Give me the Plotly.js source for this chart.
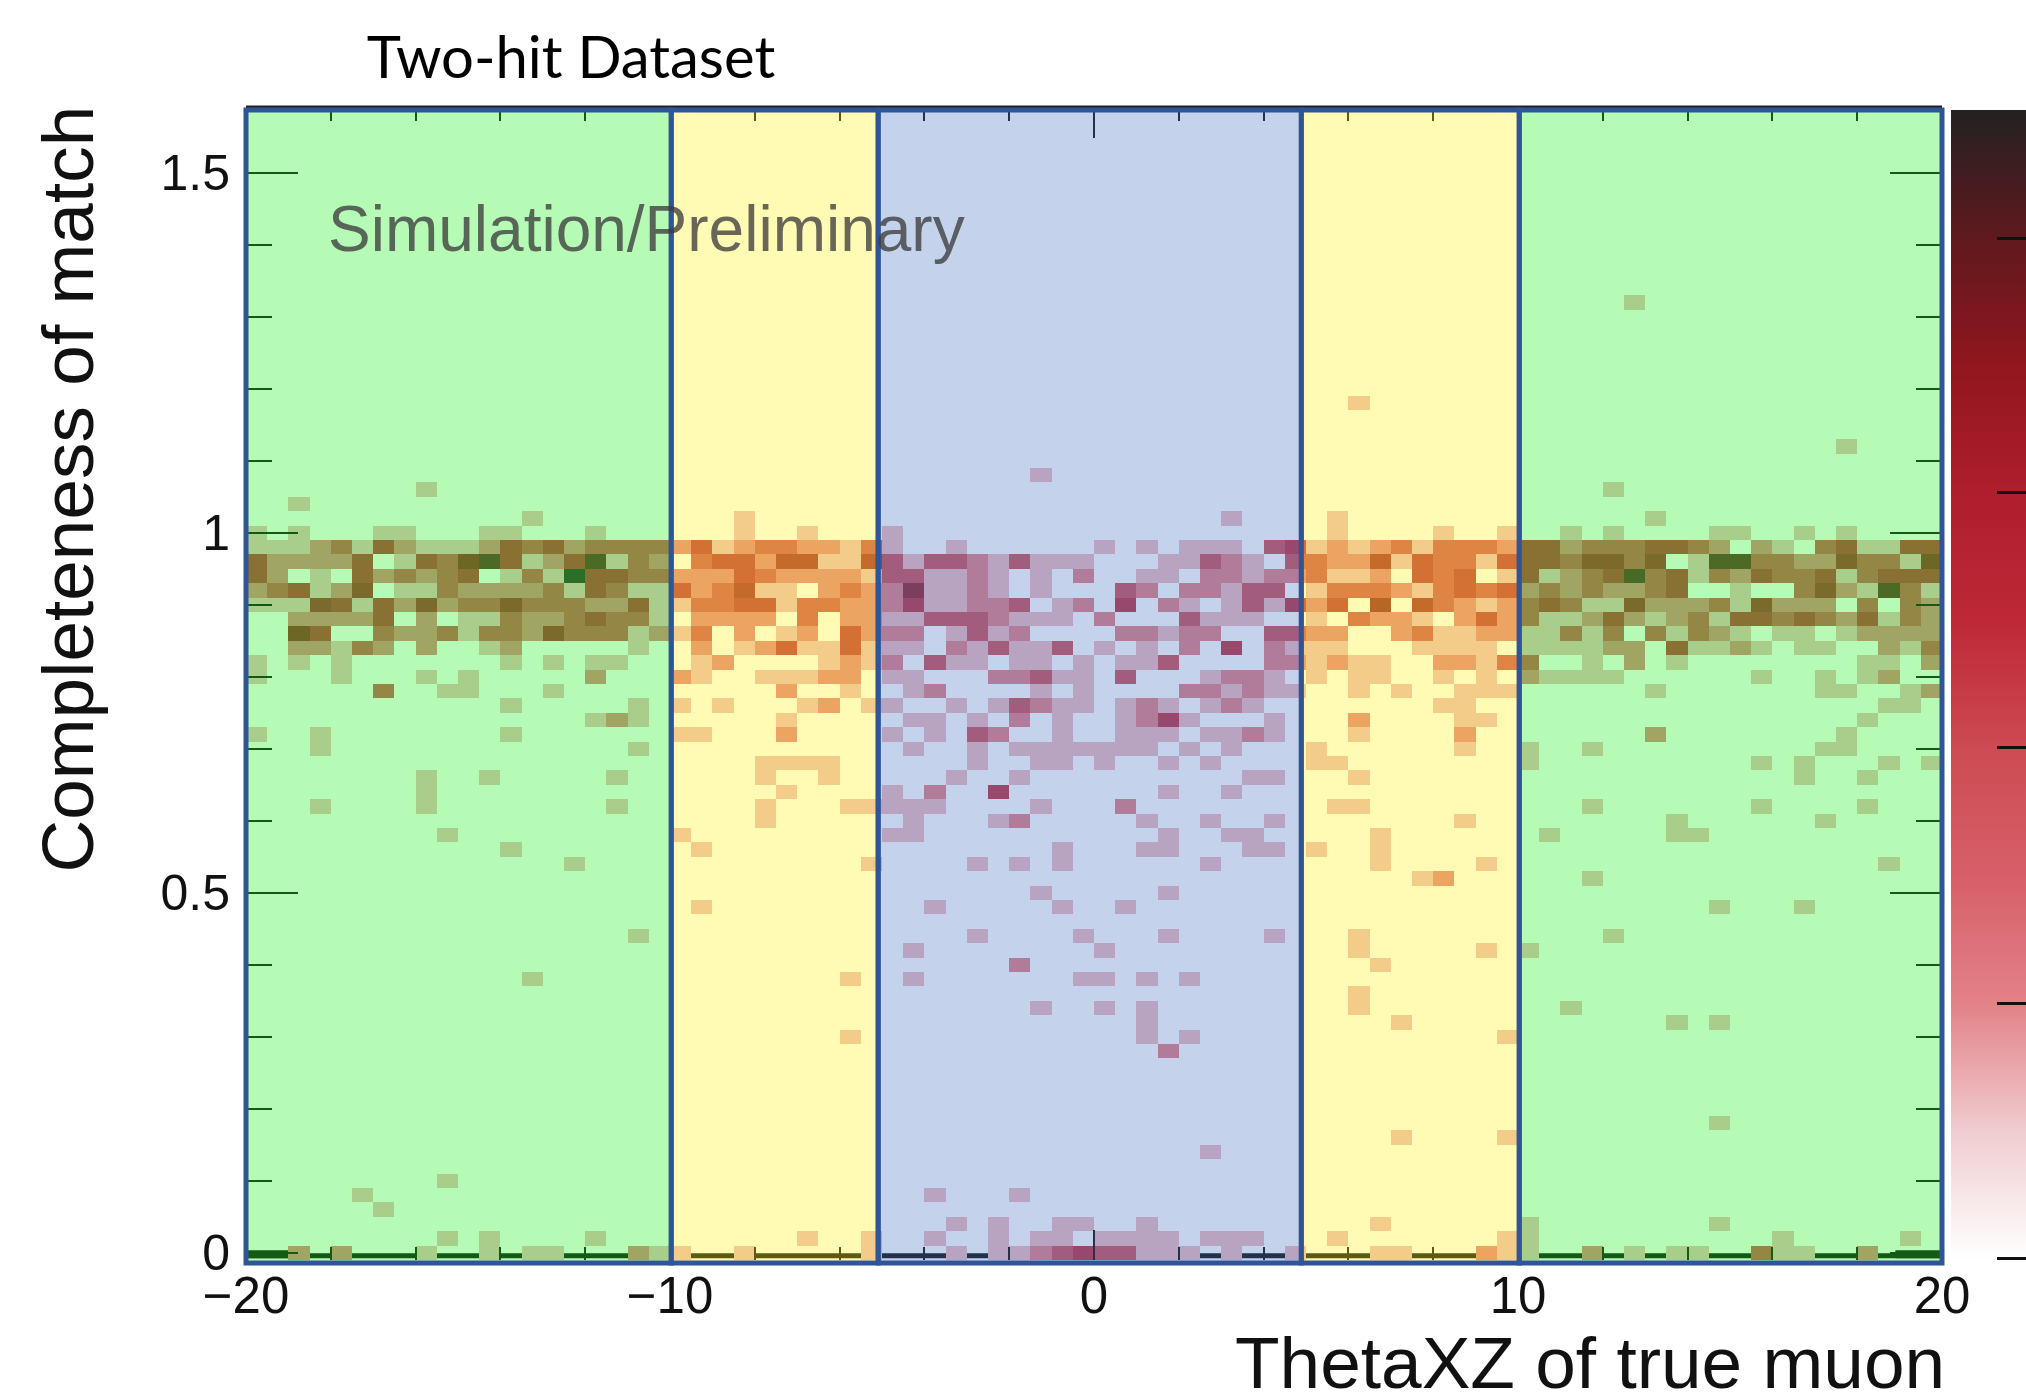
<!DOCTYPE html>
<html>
<head>
<meta charset="utf-8">
<script src="https://cdn.plot.ly/plotly-3.0.1.min.js"></script>
<style>html,body{margin:0;padding:0;background:#fff;overflow:hidden}#chart{width:2026px;height:1398px}</style>
</head>
<body>
<div id="chart"></div>
<script>
// Histogram binning
const nCols = 80, nRows = 80;
const xStart = -20, xStep = 0.5, yStart = 0, yStep = 0.02;

// Shade levels read from each cell, and their position on the colour bar
const levelValues = [0, 1, 1.8, 3.2, 4.1, 5, 5.5, 6.3, 6.4, 7];

// Dense band near completeness 1: row index, then levels per column
// (groups: -20..-10, -10..-5, -5..5, 5..10, 10..20)
const bandRowIndex = [49, 48, 47, 46, 45, 44, 43];
const bandLevels = [
  "11123142111243423333 2412332213 10010000001010111034 1212313332 44233344320210341144",
  "42222401436741247132 0344255115 31332131110001132103 3225143314 44355350177332253316",
  "42010423234013194433 2224322221 33112101020011022122 3112043401 41234834132433413444",
  "23412501132222314311 4235110232 26112101000320221330 1333213434 23232234001003521731",
  "11154142523353332241 1334413322 24112230120402101314 2406053212 34311522231522203032",
  "00222240201132234331 0222203022 11333211102000311100 1032210242 31124212314434324132",
  "00640032231332533312 1302012042 22013120000221220033 2200231122 11313031321011012222"
];

// Scattered cells: row index, then "column" (level 1) or "column:level"
const scatterRowIndex = [0,1,2,3,4,5,7,8,9,14,15,16,17,18,19,20,21,22,24,25,26,27,28,29,30,31,32,33,34,35,36,37,38,39,40,41,42,50,51,52,53,54,56,59,66];
const scatterCells = [
  "2:2 4:2 8 11 13 14 18:2 19 20 23 29 33 35 36 37:2 38:3 39:4 40:3 41:3 42 43 44 46 49 53 54 58:2 59 60 63:2 65 67 68 71:3 72 73 76:2",
  "9 11 16 26 29 32 35 37 38 40 41 42 43 45 46 47 51 59 60 72 78",
  "33 35 38 39 42 53 60 69",
  "6",
  "5 32 36",
  "9",
  "45",
  "54 59",
  "69",
  "43:2",
  "28 42 44 59",
  "42 54 67 69",
  "37 40 42 52 62",
  "52",
  "13 28 31 39 40 42 44",
  "36:2 53",
  "31 40 52 58 60",
  "18 34 39 43 48 52 64",
  "21 32 38 41 69 73",
  "37 43",
  "55 56:2 63",
  "15 29 34 36 38 45 53 58 77",
  "12 21 38 42 43 47 48 50 53",
  "9 20 30 31 43 46 47 53 61 67 68",
  "24 31 35 36:2 42 45 48 57 67 74",
  "3 8 17 24 28 29 30 31 32 37 41:2 51 52 63 71 76",
  "8 25 30 32:2 35:4 43 46",
  "8 11 17 24 27 33 36 47 48 52 73 76",
  "24 25 26 27 34 37 38 40 43 45 50 51 60 71 73 77 79",
  "3 18 31 34 36 37 38 39 40 41 42 44 46 50 57 60 63 74 75",
  "0 3 12 20 21 25:2 30 32 34:3 35:2 38 41 42 43 45 46 47:2 48 52 57:2 66:2 75",
  "16 17:2 18 25 31 32 34 36:2 38 41 42:2 43:4 44 48 52:2 57 58 76",
  "12 18 20 22 26 27:2 29 30 33 35 36:3 37:2 38 39 41 42:2 43 45 46:2 47 56 57 77 78",
  "6:3 9 10 14 25:2 28 31 32:2 37 39 44:2 45:2 46 47:2 48 49 52 54 57 58 59 66 74 75 78 79:2",
  "0 4 8 10 16:2 20:2 21 24 25 26 27:2 28:2 30 31 35:2 36:2 37:3 38 39 41:3 45 46:2 47:2 48 50 52 53 56 58 60:2 61 62 63 64 71 74 76 77:2",
  "0 2 4 12 14 16 17 21 22:2 27 28:2 29 30:2 32:3 33 34 36 37 39 41 42 43:3 48:2 49:2 50 51:2 52 53 56:2 57:2 58 59:3 60:3 63 65:2 67 76 77 79:2",
  "2:2 3:2 4 5:3 6:2 8:2 11 12:2 18 21:2 23 24:2 25:4 26 27 28:4 29 30 31 33:2 34 35:3 36 37 38:3 40 42 44:2 46:4 48:2 49 50 51 55 56 57 58 60 61 62 63 64:2 65:2 67:4 68 69 70:2 71 73 74 77:2 78 79:3",
  "0 2 6 7 11 12 16 23 26 30 51 56 59 62 64 69 70 73 75",
  "13 23 46 51 66",
  "2",
  "8 64",
  "37",
  "75",
  "52",
  "65"
];

// Axis ticks and labels
const xTickVals = [-20, -10, 0, 10, 20];
const xTickText = ["\u221220", "\u221210", "0", "10", "20"];
const yTickVals = [0, 0.5, 1, 1.5];
const yTickText = ["0", "0.5", "1", "1.5"];
const barTickVals = [0.012, 1.564, 3.117, 4.67, 6.22];

// Colour bar samples (position, colour)
const barStops = [
  [0, "rgb(255,255,255)"], [0.111, "rgb(240,205,208)"], [0.222, "rgb(226,130,135)"],
  [0.333, "rgb(215,95,105)"], [0.444, "rgb(205,75,82)"], [0.556, "rgb(190,40,55)"],
  [0.667, "rgb(175,30,45)"], [0.778, "rgb(145,22,30)"], [0.889, "rgb(95,25,30)"],
  [1, "rgb(35,33,33)"]
];

// Overlay bands: edges along the x axis and their tints
const bandEdges = [-20, -9.97, -5.09, 4.89, 10.03, 20];
const bandTints = ["rgba(54,243,54,0.37)", "rgba(255,241,52,0.37)", "rgba(96,133,204,0.37)", "rgba(255,241,52,0.37)", "rgba(54,243,54,0.37)"];
const bandLine = "#2F5597";

const z = [];
for (let r = 0; r < nRows; r++) z.push(new Array(nCols).fill(null));
bandRowIndex.forEach((k, i) => {
  const digits = bandLevels[i].replace(/ /g, "");
  for (let c = 0; c < nCols; c++) {
    const lv = +digits[c];
    if (lv > 0) z[k][c] = levelValues[lv];
  }
});
scatterRowIndex.forEach((k, i) => {
  scatterCells[i].split(" ").forEach(tok => {
    const p = tok.split(":");
    z[k][+p[0]] = levelValues[p.length > 1 ? +p[1] : 1];
  });
});

const frac = v => (v - xStart) / 40;
const shapes = [
  {type:"line", layer:"below", xref:"x", yref:"y", x0:-20, x1:20, y0:-0.004, y1:-0.004, line:{color:"#000", width:5}},
  {type:"line", layer:"below", xref:"x", yref:"y", x0:-20, x1:-18.9, y0:-0.002, y1:-0.002, line:{color:"#000", width:8}},
  {type:"line", layer:"below", xref:"x", yref:"y", x0:18.9, x1:20, y0:-0.002, y1:-0.002, line:{color:"#000", width:8}},
  {type:"line", layer:"above", xref:"paper", yref:"paper", x0:0, x1:1, y0:1.0005, y1:1.0005, line:{color:"#222", width:4}}
];
bandTints.forEach((tint, i) => {
  shapes.push({type:"rect", layer:"above", xref:"paper", yref:"paper",
    x0:frac(bandEdges[i]), x1:frac(bandEdges[i+1]), y0:-0.0026, y1:0.9983,
    fillcolor:tint, line:{color:bandLine, width:5}});
});

const xFont = {family:"Liberation Sans, Arial, sans-serif", size:51, color:"#111"};
const yFont = {family:"Liberation Sans, Arial, sans-serif", size:50, color:"#111"};

const data = [{
  type:"heatmap", z:z, x0:xStart + xStep/2, dx:xStep, y0:yStart, dy:yStep,
  zmin:0, zmax:7, colorscale:barStops, hoverongaps:false, showscale:true,
  colorbar:{thickness:75, thicknessmode:"pixels", len:1150, lenmode:"pixels",
    x:1.0053, xanchor:"left", xpad:0, y:0, yanchor:"bottom", ypad:0,
    outlinewidth:0, ticks:"inside", ticklen:29, tickwidth:3, tickcolor:"#111",
    tickmode:"array", tickvals:barTickVals, showticklabels:false}
}];

const layout = {
  width:2026, height:1398,
  margin:{l:245.5, r:84, t:108, b:138, autoexpand:false},
  paper_bgcolor:"#fff", plot_bgcolor:"#fff",
  title:{text:"Two-hit Dataset", font:{family:"Lato, sans-serif", size:58, color:"#000"},
    x:0.1916, xanchor:"center", xref:"paper", y:0.9585, yanchor:"middle"},
  xaxis:{range:[-20,20], tickmode:"array", tickvals:xTickVals, ticktext:xTickText,
    ticks:"inside", ticklen:30, tickwidth:2, tickcolor:"#000", mirror:"ticks",
    showgrid:false, zeroline:false, showline:false, tickfont:xFont, ticklabelstandoff:1,
    minor:{ticks:"inside", ticklen:13, tickwidth:2, tickcolor:"#000", tick0:-20, dtick:2, showgrid:false}},
  yaxis:{range:[-0.01,1.59], tickmode:"array", tickvals:yTickVals, ticktext:yTickText,
    ticks:"inside", ticklen:52, tickwidth:2, tickcolor:"#000", mirror:"ticks",
    showgrid:false, zeroline:false, showline:false, tickfont:yFont, ticklabelstandoff:15,
    minor:{ticks:"inside", ticklen:26, tickwidth:2, tickcolor:"#000", tick0:0, dtick:0.1, showgrid:false}},
  shapes:shapes,
  annotations:[
    {text:"Completeness of match", xref:"paper", yref:"paper", x:(67-245.5)/1696.5, y:(1260-489)/1152,
     xanchor:"center", yanchor:"middle", textangle:-90, showarrow:false,
     font:{family:"Liberation Sans, Arial, sans-serif", size:73, color:"#111"}},
    {text:"ThetaXZ of true muon", xref:"paper", yref:"paper", x:(1947-245.5)/1696.5, y:(1260-1362)/1152,
     xanchor:"right", yanchor:"middle", showarrow:false,
     font:{family:"Liberation Sans, Arial, sans-serif", size:73, color:"#111"}},
    {text:"Simulation/Preliminary", xref:"paper", yref:"paper", x:(325.5-245.5)/1696.5, y:(1260-229)/1152,
     xanchor:"left", yanchor:"middle", showarrow:false,
     font:{family:"Liberation Sans, Arial, sans-serif", size:64, color:"rgba(60,60,60,0.78)"}}
  ]
};

Plotly.newPlot("chart", data, layout, {displayModeBar:false, staticPlot:true});
</script>
</body>
</html>
